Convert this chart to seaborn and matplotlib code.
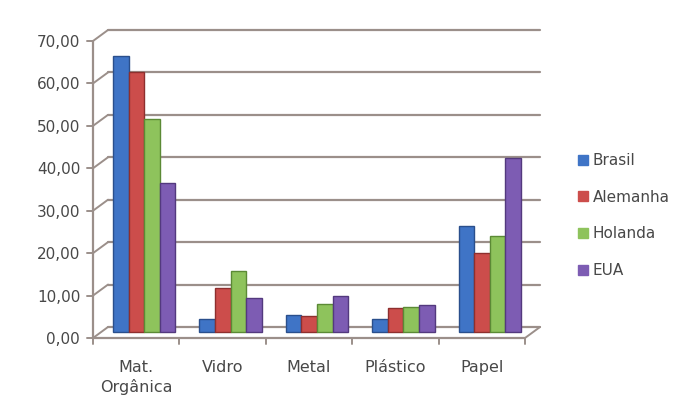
import numpy as np
import pandas as pd
import matplotlib
matplotlib.use("Agg")
import matplotlib.pyplot as plt
from matplotlib.transforms import ScaledTranslation
from matplotlib.patches import Patch
import seaborn as sns

categories = ["Mat.\nOrgânica", "Vidro", "Metal", "Plástico", "Papel"]
countries = ["Brasil", "Alemanha", "Holanda", "EUA"]
brasil = [65.1, 3.1, 4.0, 3.1, 25.0]
alemanha = [61.3, 10.4, 3.8, 5.7, 18.6]
holanda = [50.2, 14.4, 6.6, 5.8, 22.6]
eua = [35.1, 8.0, 8.5, 6.4, 41.0]
yticks = [0, 10, 20, 30, 40, 50, 60, 70]
ytick_labels = ["0,00", "10,00", "20,00", "30,00", "40,00", "50,00", "60,00", "70,00"]

colors = ["#3f74c6", "#cc4d4b", "#8ec35c", "#7d5cb3"]
edges = ["#2a4f8c", "#8e2f2e", "#5b8a35", "#53397e"]

df = pd.DataFrame({
    "categoria": np.repeat(categories, len(countries)),
    "pais": countries * len(categories),
    "valor": np.ravel(np.column_stack([brasil, alemanha, holanda, eua])),
})

sns.set_theme(style="white")
plt.rcParams["font.family"] = ["DejaVu Sans"]

W, H, DPI = 675, 416, 100
fig = plt.figure(figsize=(W / DPI, H / DPI), dpi=DPI)
fig.patch.set_facecolor("white")

# back wall of the pseudo-3D plot area, in pixels
bx0, bx1, by0, by1 = 108, 540, 327, 30
ax = fig.add_axes([bx0 / W, 1 - by0 / H, (bx1 - bx0) / W, (by0 - by1) / H])
ax.set_facecolor("none")

sns.barplot(data=df, x="categoria", y="valor", hue="pais", order=categories,
            hue_order=countries, palette=colors, width=0.72, ax=ax,
            legend=False, saturation=1)

ax.set_xlim(-0.5, 4.5)
ax.set_ylim(0, 70)
for s in ax.spines.values():
    s.set_visible(False)

def px(dx, dy):
    return ScaledTranslation(dx / DPI, -dy / DPI, fig.dpi_scale_trans)

# bars sit half way between the back wall and the front edge
bar_shift = px(-7, 5)
for container, ec in zip(ax.containers, edges):
    for bar in container:
        bar.set_transform(ax.transData + bar_shift)
        bar.set_edgecolor(ec)
        bar.set_linewidth(1.0)
        bar.set_clip_on(False)
        bar.set_zorder(3)

grid_col = "#9b8f8a"
# back wall gridlines
for y in yticks:
    ax.plot([-0.5, 4.5], [y, y], color=grid_col, lw=1.6, zorder=1, clip_on=False)

# front edges: left axis, floor edge and the depth diagonals
fdx, fdy = -15, 11
front = ax.transData + px(fdx, fdy)
ux = 5 / (bx1 - bx0)
uy = 70 / (by0 - by1)
ax.plot([-0.5, -0.5], [0, 70], color=grid_col, lw=1.6, transform=front, clip_on=False)
ax.plot([-0.5, 4.5], [0, 0], color=grid_col, lw=1.6, transform=front, clip_on=False)
for y in yticks:
    ax.plot([-0.5 + fdx * ux, -0.5], [y - fdy * uy, y], color=grid_col, lw=1.4,
            clip_on=False)
    ax.plot([-0.5 - 6 * ux, -0.5], [y, y], color=grid_col, lw=1.4,
            transform=front, clip_on=False)
ax.plot([4.5 + fdx * ux, 4.5], [-fdy * uy, 0], color=grid_col, lw=1.4, clip_on=False)
for xb in np.arange(-0.5, 5.0, 1.0):
    ax.plot([xb, xb], [0, -6 * uy], color=grid_col, lw=1.4, transform=front,
            clip_on=False)

ax.set_yticks(yticks)
ax.set_yticklabels(ytick_labels, fontsize=11, color="#484848")
ax.tick_params(axis="y", length=0, pad=20)
for lab in ax.get_yticklabels():
    lab.set_transform(lab.get_transform() + px(0, fdy))

ax.set_xticks(range(len(categories)))
ax.set_xticklabels(categories, fontsize=11.5, color="#484848", linespacing=1.3)
ax.tick_params(axis="x", length=0, pad=24)
for lab in ax.get_xticklabels():
    lab.set_transform(lab.get_transform() + px(fdx, 0))

ax.set_xlabel("")
ax.set_ylabel("")
ax.grid(False)

handles = [Patch(facecolor=c, edgecolor=c) for c in colors]
fig.legend(handles, countries, loc="upper left",
           bbox_to_anchor=(578 / W, 1 - 153 / H), frameon=False,
           fontsize=11, labelcolor="#484848", handlelength=0.65,
           handleheight=0.65, handletextpad=0.3, labelspacing=1.42,
           borderaxespad=0, borderpad=0)

fig.savefig("out.png", dpi=DPI, facecolor="white")
